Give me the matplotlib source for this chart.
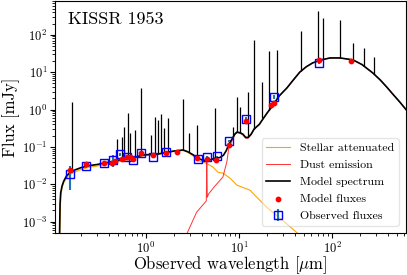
import numpy as np
import matplotlib
matplotlib.use('Agg')
import matplotlib.pyplot as plt

plt.rcParams['font.family'] = 'serif'
plt.rcParams['font.serif'] = ['cmr10']
plt.rcParams['mathtext.fontset'] = 'cm'
plt.rcParams['axes.formatter.use_mathtext'] = True

# model spectrum continuum (um, mJy)
cont_wl = [0.1175, 0.119, 0.121, 0.125, 0.13, 0.14, 0.15, 0.17, 0.2, 0.25, 0.3, 0.35, 0.4, 0.45,
           0.5, 0.6, 0.7, 0.8, 0.9, 1.0, 1.3, 1.6, 2.0, 2.5, 2.8, 3.2, 3.6, 4.0, 4.5, 5.0, 5.5,
           6.2, 6.8, 7.3, 7.8, 8.5, 9.0, 9.5, 10.3, 11.0, 11.8, 12.5, 13.5, 14.5, 15.5, 16.5,
           18, 20, 22.6, 27, 32.8, 38, 45, 53, 62, 75, 95, 122, 168, 210, 275, 330, 388, 450,
           535, 625]
cont_f = [4e-4, 0.003, 0.006, 0.009, 0.012, 0.017, 0.02, 0.024, 0.028, 0.032, 0.034, 0.037,
          0.039, 0.042, 0.044, 0.048, 0.05, 0.055, 0.06, 0.062, 0.064, 0.07, 0.078, 0.083,
          0.075, 0.062, 0.05, 0.045, 0.043, 0.046, 0.05, 0.052, 0.06, 0.08, 0.12, 0.17, 0.22,
          0.25, 0.24, 0.22, 0.18, 0.18, 0.22, 0.3, 0.35, 0.4, 0.55, 0.8, 1.2, 2.3, 3.8, 6.0,
          10, 14, 17.7, 21, 24, 24, 21.3, 16, 9.5, 6.2, 4.0, 2.6, 1.6, 1.0]

# emission lines: wavelength, base, peak
line_wl = [0.160, 0.488, 0.552, 0.58, 0.64, 0.673, 0.762, 0.884, 1.13, 1.25, 1.35, 1.45, 1.56,
           1.72, 2.5, 2.9, 3.53, 5.5, 8.6, 9.5, 10.2, 12.5, 14.5, 17.6, 21, 25.7, 46.4, 70.6,
           79.6, 122, 168, 220, 282]
line_base = [0.022, 0.044, 0.046, 0.047, 0.049, 0.05, 0.053, 0.06, 0.063, 0.064, 0.065, 0.067,
             0.069, 0.072, 0.083, 0.072, 0.052, 0.05, 0.18, 0.25, 0.24, 0.18, 0.3, 0.6, 1.0,
             2.0, 10.5, 19.5, 21.5, 24, 21.3, 15, 9.2]
line_peak = [1.58, 0.16, 0.18, 0.34, 0.8, 0.23, 0.28, 3.76, 0.21, 0.62, 0.52, 0.75, 0.32, 0.58,
             1.9, 0.23, 0.38, 1.09, 0.34, 2.15, 1.15, 2.94, 73, 5.5, 37, 39.5, 128, 442, 286,
             253, 61, 45, 25.6]

# stellar attenuated
star_wl = [0.1175, 0.121, 0.125, 0.13, 0.14, 0.15, 0.17, 0.2, 0.25, 0.3, 0.35, 0.4, 0.5, 0.6,
           0.7, 0.8, 0.9, 1.0, 1.3, 1.6, 2.0, 2.5, 2.8, 3.2, 3.6, 4.0, 4.5, 5.25, 5.95, 6.7,
           8.0, 9.5, 13.1, 16, 20, 29.7, 42, 60]
star_f = [3e-4, 0.005, 0.008, 0.011, 0.015, 0.018, 0.021, 0.025, 0.029, 0.031, 0.034, 0.036,
          0.04, 0.044, 0.047, 0.052, 0.057, 0.059, 0.062, 0.068, 0.076, 0.08, 0.072, 0.058,
          0.044, 0.04, 0.036, 0.029, 0.021, 0.02, 0.0147, 0.0095, 0.007, 0.0042, 0.0024,
          0.00107, 5.1e-4, 2e-4]

# dust emission
dust_wl = [2.72, 3.5, 4.45, 4.5, 4.56, 4.7, 5.5, 6.7, 7.4, 7.8, 8.5, 9.0, 9.5, 10.3, 11.0,
           11.8, 12.5, 13.5, 14.5, 15.5, 16.5, 18, 20, 22.6, 27, 32.8, 38, 45, 53, 62, 75, 95,
           122, 168, 210, 275, 330, 388, 450, 535, 625]
dust_f = [4.5e-4, 0.0018, 0.0036, 0.05, 0.0045, 0.0055, 0.009, 0.0155, 0.04, 0.1, 0.155, 0.21,
          0.24, 0.23, 0.21, 0.17, 0.17, 0.21, 0.29, 0.34, 0.39, 0.54, 0.8, 1.2, 2.3, 3.8, 6.0,
          10, 14, 17.7, 21, 24, 24, 21.3, 16, 9.5, 6.2, 4.0, 2.6, 1.6, 1.0]

# fluxes
mod_wl = [0.1528, 0.2267, 0.354, 0.43, 0.46, 0.55, 0.625, 0.67, 0.725, 0.88, 1.19, 1.64, 2.15,
          3.54, 4.5, 5.66, 7.8, 11.9, 22.0, 23.7, 72.5, 160]
mod_f = [0.024, 0.035, 0.037, 0.037, 0.042, 0.047, 0.054, 0.054, 0.048, 0.069, 0.061, 0.069,
         0.073, 0.051, 0.048, 0.045, 0.113, 0.5, 1.35, 1.5, 21, 20]
obs_wl = [0.1528, 0.2267, 0.354, 0.44, 0.525, 0.625, 0.725, 0.88, 1.19, 1.64, 3.62, 4.5, 5.8,
          7.8, 11.9, 23.7, 72.5]
obs_f = [0.019, 0.031, 0.037, 0.045, 0.063, 0.054, 0.045, 0.069, 0.054, 0.073, 0.048, 0.054,
         0.056, 0.145, 0.57, 2.2, 17.7]
obs_err = [0.012, 0.004, 0.004, 0.015, 0.004, 0.003, 0.003, 0.004, 0.003, 0.004, 0.003, 0.003,
           0.003, 0.01, 0.05, 0.3, 1.5]

fig = plt.figure(figsize=(4.07, 2.75), dpi=100)
ax = fig.add_axes([55/407, 42/275, 351/407, 232/275])

ax.loglog(star_wl, star_f, color='orange', lw=0.8, label='Stellar attenuated')
ax.loglog(dust_wl, dust_f, color='r', lw=0.7, alpha=0.8, label='Dust emission')
ax.loglog(cont_wl, cont_f, color='k', lw=1.2, label='Model spectrum')
ax.vlines(line_wl, line_base, line_peak, color='k', lw=0.9)
ax.scatter(mod_wl, mod_f, marker='o', color='r', s=10, zorder=3, label='Model fluxes')
ax.errorbar(obs_wl, obs_f, yerr=obs_err, ls='', marker='s', markerfacecolor='None',
            markersize=6, markeredgecolor='b', ecolor='C0', capsize=0, label='Observed fluxes')

ax.set_xlim(0.105, 625)
ax.set_ylim(5e-4, 8e2)
ax.set_xlabel(r'Observed wavelength [$\mu$m]', fontsize=12, labelpad=-1)
ax.set_ylabel('Flux [mJy]', fontsize=12, labelpad=1)
ax.tick_params(labelsize=9, pad=2)
ax.text(0.037, 0.955, 'KISSR 1953', transform=ax.transAxes, fontsize=13, va='top')
ax.legend(loc='lower right', fontsize=8.6, fancybox=True, framealpha=0.5,
          borderaxespad=0.6, labelspacing=0.55)

fig.savefig('out.png', dpi=100)
